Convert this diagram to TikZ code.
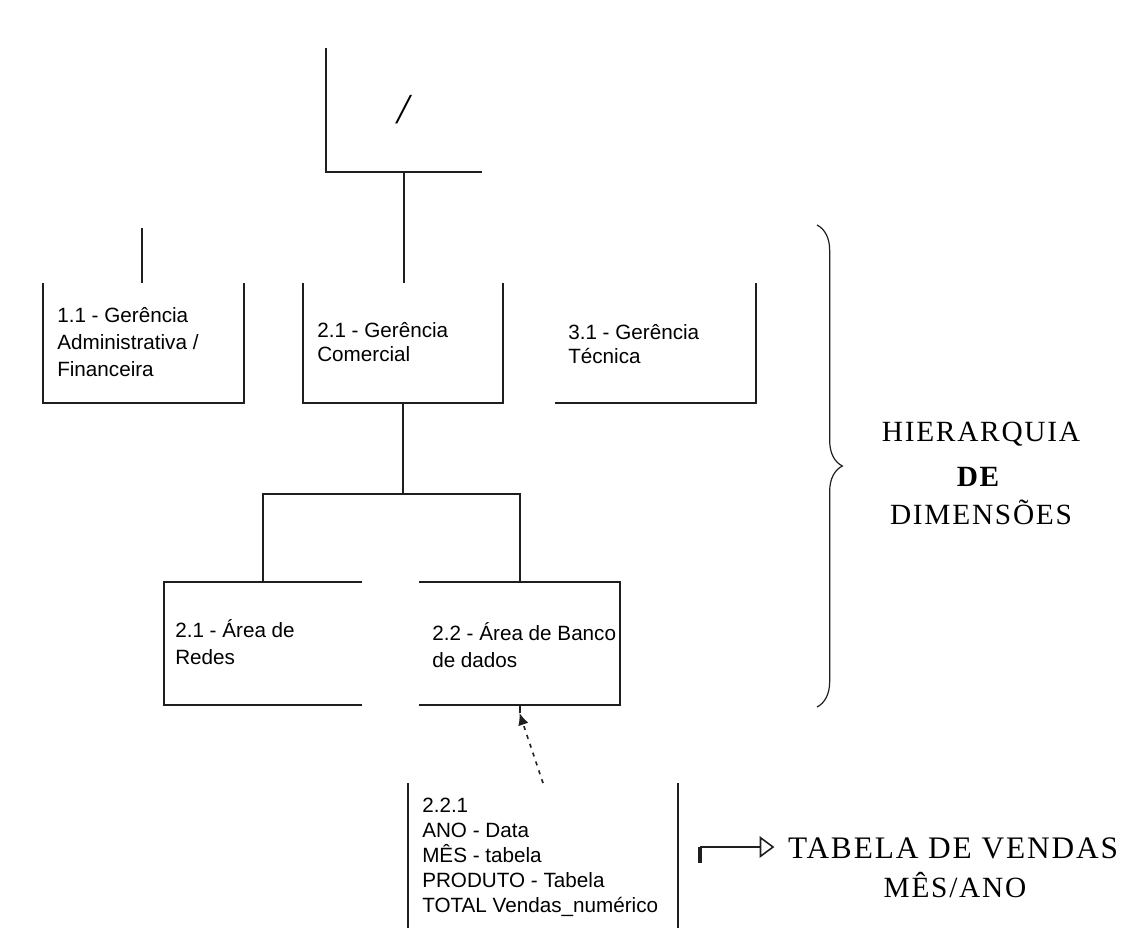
\documentclass[tikz,border=0pt]{standalone}
\usepackage{fontspec}
\setmainfont{Liberation Serif}
\newfontfamily\boxfont{Liberation Sans}
\newfontfamily\capsfont[LetterSpace=6]{Liberation Serif}
\usetikzlibrary{fit,arrows.meta,decorations.pathreplacing}

\begin{document}
\begin{tikzpicture}[x=0.75pt,y=-0.75pt,
  edge/.style={draw=black!88, line width=1.5pt},
  frame/.style={inner sep=0pt, outer sep=0pt},
  boxtext/.style={anchor=west, align=left, inner sep=0pt,
    font=\boxfont\fontsize{15.5}{#1}\selectfont},
  bigtext/.style={inner sep=0pt, font=\capsfont\fontsize{22}{26}\selectfont}]
\useasboundingbox[fill=white] (0,0) rectangle (1141,952);

% frames of the hierarchy levels
\node[frame, fit={(326,48) (482,172)}]  (root) {};
\node[frame, fit={(43,283) (244,403)}]  (b1) {};
\node[frame, fit={(303,283) (503,403)}] (b2) {};
\node[frame, fit={(555,283) (756,403)}] (b3) {};
\node[frame, fit={(164,582) (362,705)}] (b4) {};
\node[frame, fit={(419,582) (620,705)}] (b5) {};
\node[frame, fit={(408,783) (678,928)}] (b6) {};

% visible sides of each frame
\draw[edge] (root.north west) -- (root.south west) -- (root.south east);
\draw[edge] (b1.north west) -- (b1.south west) -- (b1.south east) -- (b1.north east);
\draw[edge] (b2.north west) -- (b2.south west) -- (b2.south east) -- (b2.north east);
\draw[edge] (b3.south west) -- (b3.south east) -- (b3.north east);
\draw[edge] (b4.north east) -- (b4.north west) -- (b4.south west) -- (b4.south east);
\draw[edge] (b5.north west) -- (b5.north east) -- (b5.south east) -- (b5.south west);
\draw[edge] (b6.north west) -- (b6.south west);
\draw[edge] (b6.north east) -- (b6.south east);

% texts
\node[inner sep=0pt, font=\itshape\fontsize{32}{32}\selectfont] (slash) at (403,110) {/};
\node[boxtext=20]   (t1) at (57,342)  {1.1 - Gerência\\Administrativa /\\Financeira};
\node[boxtext=17.5] (t2) at (317,342) {2.1 - Gerência\\Comercial};
\node[boxtext=17.5] (t3) at (568,344) {3.1 - Gerência\\Técnica};
\node[boxtext=20]   (t4) at (175,642) {2.1 - Área de\\Redes};
\node[boxtext=20]   (t5) at (432,645) {2.2 - Área de Banco\\de dados};
\node[boxtext=18.8] (t6) at (422,857) {2.2.1\\ANO - Data\\MÊS - tabela\\PRODUTO - Tabela\\TOTAL Vendas\_numérico};

% connectors
\draw[edge] (root.south) -- (root.south |- b2.north);
\coordinate (s1) at (142,228);
\draw[edge] (s1) -- (s1 |- b1.north);
\coordinate (bus) at (404,494);
\draw[edge] (b2.south) -- (b2.south |- bus);
\draw[edge] (b4.north) -- (b4.north |- bus) -- (b5.north |- bus) -- (b5.north);

% dotted link from the fact table up to the database area
\draw[edge] (b5.south) -- ++(0,8) coordinate (tip);
\draw[draw=black!88, line width=1.2pt, dash pattern=on 3pt off 4pt,
  -{Latex[length=9pt,width=8pt]}] (b6.north) -- (tip);

% hierarchy brace and its label
\draw[black!88, line width=0.9pt, decorate,
  decoration={brace, amplitude=19pt}] (817,225) -- (817,707);
\node[bigtext] (h1) at (981,434) {HIERARQUIA};
\node[bigtext, font=\capsfont\bfseries\fontsize{22}{26}\selectfont] (h2) at (978,477) {DE};
\node[bigtext] (h3) at (981,512) {DIMENSÕES};

% result label
\node[bigtext, font=\capsfont\fontsize{23.5}{26}\selectfont] (lab) at (953,848) {TABELA DE VENDAS};
\node[bigtext] (lab2) at (955,885) {MÊS/ANO};
\coordinate (mk) at (700,847);
\draw[black!88, line width=3pt] (mk) -- ++(0,16);
\draw[draw=black!88, line width=1.2pt, shorten >=10pt,
  -{Triangle[open,length=11pt,width=16pt]}] (mk) -- (mk -| lab.west);
\end{tikzpicture}
\end{document}
